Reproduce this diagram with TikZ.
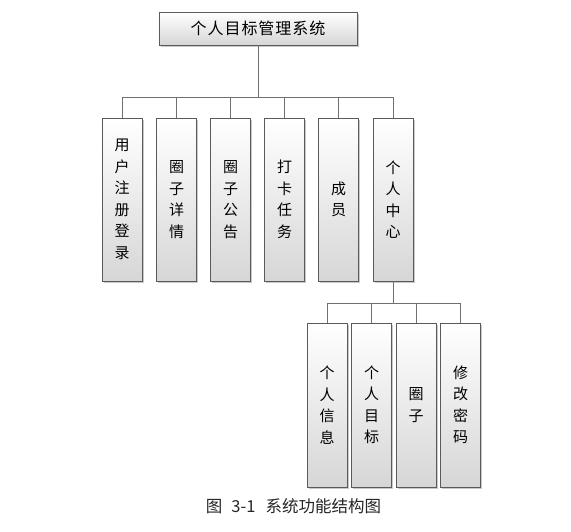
\documentclass[tikz,border=0pt]{standalone}
\usepackage{fontspec}
\newfontfamily\cjk{Noto Sans CJK SC}
\newfontfamily\cjkwide[LetterSpace=6]{Noto Sans CJK SC}
\usetikzlibrary{shadows}
\definecolor{edgegray}{HTML}{5A5A5A}
\definecolor{linegray}{HTML}{707070}
\tikzset{
  boxbase/.style={draw=edgegray, line width=0.9pt, top color=white, bottom color=black!16,
    drop shadow={shadow xshift=1.6pt, shadow yshift=-1.6pt, fill=black!35, opacity=0.6},
    inner sep=0pt},
  titlebox/.style={boxbase, minimum width=198pt, minimum height=33pt, font=\cjkwide\fontsize{16}{18}\selectfont},
  vbox/.style={boxbase, minimum width=40pt, minimum height=163pt, align=center,
    font=\cjk\fontsize{15}{21.5}\selectfont},
  wbox/.style={vbox, minimum height=164pt},
  conn/.style={draw=linegray, line width=0.9pt},
  captext/.style={font=\cjk\fontsize{16.5}{18}\selectfont, text=black!85, inner sep=0pt}
}
\begin{document}
\begin{tikzpicture}[x=1pt,y=-1pt]
\useasboundingbox (0,0) rectangle (571,532);
\fill[white] (0,0) rectangle (571,532);
\node[titlebox] (top) at (258,28.5) {个人目标管理系统};
\node[vbox] (n1) at (122,199.5) {用\\户\\注\\册\\登\\录};
\node[vbox] (n2) at (176.5,199.5) {圈\\子\\详\\情};
\node[vbox] (n3) at (230.5,199.5) {圈\\子\\公\\告};
\node[vbox] (n4) at (284.5,199.5) {打\\卡\\任\\务};
\node[vbox] (n5) at (338.5,199.5) {成\\员};
\node[vbox] (n6) at (393,199.5) {个\\人\\中\\心};
\node[wbox] (m1) at (327,405) {个\\人\\信\\息};
\node[wbox] (m2) at (371.5,405) {个\\人\\目\\标};
\node[wbox] (m3) at (416,405) {圈\\子};
\node[wbox] (m4) at (460.5,405) {修\\改\\密\\码};
\coordinate (bus1) at (258,97);
\coordinate (bus2) at (393,303);
\draw[conn] (top.south) -- (bus1);
\foreach \n in {n1,n2,n3,n4,n5,n6} \draw[conn] (bus1) -| (\n.north);
\draw[conn] (n6.south) -- (bus2);
\foreach \n in {m1,m2,m3,m4} \draw[conn] (bus2) -| (\n.north);
\node[captext] (cap) at (293.5,506) {图\hspace{9pt}3-1\hspace{10pt}系统功能结构图};
\end{tikzpicture}
\end{document}
